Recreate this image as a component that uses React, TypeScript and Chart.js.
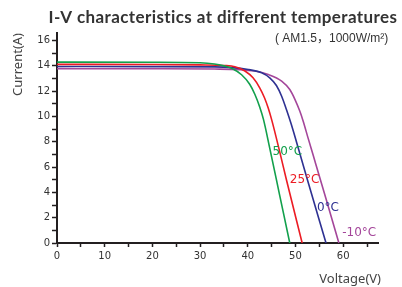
import React, { useEffect, useRef } from "react";
import { Chart, registerables } from "chart.js";

Chart.register(...registerables);

const seriesNames = ["50°C", "25°C", "0°C", "-10°C"];
const seriesColors = ["#12a04c", "#ec1c24", "#2e3192", "#a4469a"];

const v50 = [0, 20, 30, 33, 35, 36.6, 38.7, 40.4, 41.5, 42.5, 43.3, 44.6, 46.7, 48.8];
const i50 = [14.3, 14.29, 14.25, 14.15, 14.0, 13.82, 13.3, 12.55, 11.74, 10.75, 9.75, 7.5, 3.75, 0];

const v25 = [0, 20, 30, 35, 37.3, 39.4, 41.1, 42.5, 43.5, 44.3, 45.0, 46.7, 48.1, 51.4];
const i25 = [14.12, 14.11, 14.08, 14.03, 13.94, 13.6, 13.06, 12.27, 11.48, 10.65, 9.75, 7.2, 5.0, 0];

const v0 = [0, 20, 33, 40.1, 42.9, 44.6, 46.0, 47.1, 48.1, 49.1, 50.7, 52.5, 56.4];
const i0 = [13.95, 13.94, 13.92, 13.71, 13.45, 13.06, 12.45, 11.6, 10.55, 9.4, 7.35, 5.0, 0];

const vm10 = [0, 20, 33, 41.5, 44.3, 47.1, 48.8, 49.9, 50.9, 51.6, 52.6, 53.7, 56.4, 59.1];
const im10 = [13.78, 13.77, 13.75, 13.59, 13.32, 12.8, 12.13, 11.34, 10.43, 9.65, 8.35, 6.95, 3.5, 0];

const seriesV = [v50, v25, v0, vm10];
const seriesI = [i50, i25, i0, im10];

// label anchor positions (data coordinates)
const labelV = [45.2, 48.8, 54.5, 59.8];
const labelI = [7.2, 5.0, 2.75, 0.8];

const xTicks = [0, 5, 10, 15, 20, 25, 30, 35, 40, 45, 50, 55, 60, 65];
const yTicks = [0, 1, 2, 3, 4, 5, 6, 7, 8, 9, 10, 11, 12, 13, 14, 15, 16];

const titleText = "I-V characteristics at different temperatures";
const subtitleText = "( AM1.5，1000W/m²)";
const xTitle = "Voltage(V)";
const yTitle = "Current(A)";

const X_MAX = 67.3;
const Y_MAX = 16.6;

export default function App() {
  const ref = useRef<HTMLCanvasElement>(null);

  useEffect(() => {
    const canvas = ref.current;
    if (!canvas) return;

    const textPlugin = {
      id: "textPlugin",
      afterDraw(chart: any) {
        const ctx = chart.ctx;
        const xs = chart.scales.x;
        const ys = chart.scales.y;
        ctx.save();
        // title
        ctx.fillStyle = "#333333";
        ctx.font = "bold 17px Lato";
        ctx.textAlign = "center";
        ctx.textBaseline = "middle";
        (ctx as any).letterSpacing = "0.4px";
        ctx.fillText(titleText, 223, 18);
        (ctx as any).letterSpacing = "0px";
        // subtitle
        ctx.font = "12px 'Liberation Sans', 'Noto Sans CJK SC'";
        ctx.textAlign = "left";
        ctx.fillStyle = "#333333";
        ctx.fillText(subtitleText, 275, 39);
        // axis titles
        ctx.font = "13px 'Noto Sans'";
        ctx.fillStyle = "#444444";
        ctx.textAlign = "right";
        ctx.fillText(xTitle, 381, 279);
        ctx.save();
        ctx.translate(18, 33);
        ctx.rotate(-Math.PI / 2);
        ctx.textAlign = "right";
        ctx.fillText(yTitle, 0, 0);
        ctx.restore();
        // series labels
        ctx.font = "12px 'DejaVu Sans'";
        ctx.textAlign = "left";
        for (let k = 0; k < seriesNames.length; k++) {
          ctx.fillStyle = seriesColors[k];
          ctx.fillText(seriesNames[k], xs.getPixelForValue(labelV[k]), ys.getPixelForValue(labelI[k]));
        }
        ctx.restore();
      },
    };

    const chart = new Chart(canvas, {
      type: "line",
      data: {
        datasets: seriesNames.map((name, k) => ({
          label: name,
          data: seriesV[k].map((v, j) => ({ x: v, y: seriesI[k][j] })),
          borderColor: seriesColors[k],
          borderWidth: 1.6,
          pointRadius: 0,
          fill: false,
          cubicInterpolationMode: "monotone" as const,
        })),
      },
      options: {
        animation: false,
        responsive: false,
        maintainAspectRatio: false,
        devicePixelRatio: 1,
        layout: { padding: { left: 0, top: 33, right: 24, bottom: 0 } },
        plugins: {
          legend: { display: false },
          title: { display: false },
          tooltip: { enabled: false },
        },
        scales: {
          x: {
            type: "linear",
            min: 0,
            max: X_MAX,
            border: { color: "#231f20", width: 2 },
            grid: { drawOnChartArea: false, drawTicks: true, tickLength: 4, tickWidth: 1.5, tickColor: "#231f20" },
            ticks: {
              autoSkip: false,
              maxRotation: 0,
              padding: 3,
              color: "#333333",
              font: { size: 10, family: "'DejaVu Sans'" },
              callback: (v: any) => (Math.abs(v % 10) < 1e-6 ? String(v) : ""),
            },
            afterBuildTicks: (s: any) => {
              s.ticks = xTicks.map((value) => ({ value }));
            },
            afterFit: (s: any) => {
              s.height = 44;
            },
          },
          y: {
            type: "linear",
            min: 0,
            max: Y_MAX,
            border: { color: "#231f20", width: 2 },
            grid: { drawOnChartArea: false, drawTicks: true, tickLength: 5, tickWidth: 1.5, tickColor: "#231f20" },
            ticks: {
              autoSkip: false,
              padding: 2,
              color: "#333333",
              font: { size: 10, family: "'DejaVu Sans'" },
              callback: (v: any) => (Math.abs(v % 2) < 1e-6 ? String(v) : ""),
            },
            afterBuildTicks: (s: any) => {
              s.ticks = yTicks.map((value) => ({ value }));
            },
            afterFit: (s: any) => {
              s.width = 57;
            },
          },
        },
      },
      plugins: [textPlugin],
    });

    return () => chart.destroy();
  }, []);

  return (
    <div style={{ position: "fixed", left: 0, top: 0, width: 402, height: 287, background: "#fff" }}>
      <canvas ref={ref} width={402} height={287} />
    </div>
  );
}
